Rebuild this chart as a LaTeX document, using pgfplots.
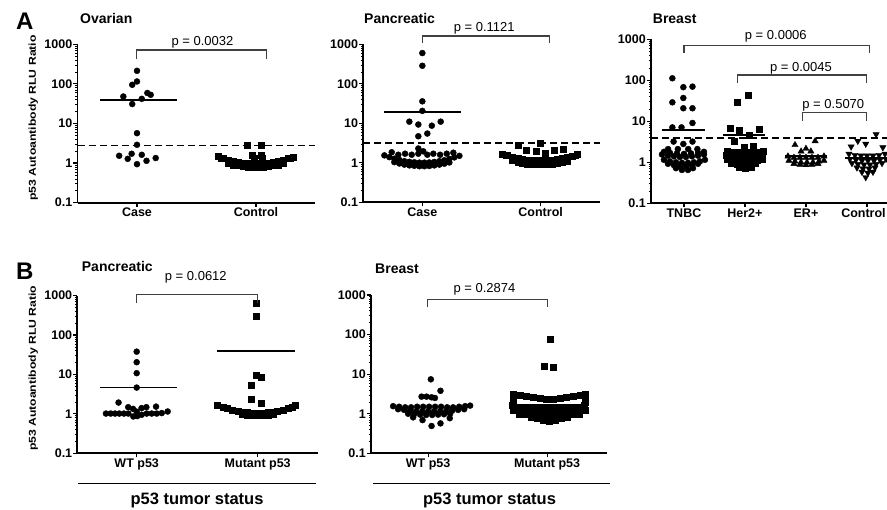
\documentclass[border=0pt]{standalone}
\usepackage{fontspec}
\setmainfont{Liberation Sans}
\usepackage{graphicx}
\usepackage{pgfplots}
\pgfplotsset{compat=1.18}

\pgfplotsset{
  dotplotaxis/.style={
    scale only axis, ymin=0.1, ymax=1000,
    ytick={0.1,1,10,100,1000}, yticklabels={0.1,1,10,100,1000},
    minor ytick={0.2,0.3,0.4,0.5,0.6,0.7,0.8,0.9,2,3,4,5,6,7,8,9,20,30,40,50,60,70,80,90,200,300,400,500,600,700,800,900},
    axis x line*=bottom, axis y line*=left,
    axis line style={line width=1.8pt},
    tick align=outside, major tick length=4pt, minor tick length=2pt,
    major tick style={line width=1.2pt, black},
    minor tick style={line width=0.6pt, black},
    ticklabel style={font=\bfseries\fontsize{12.5}{14}\selectfont},
    yticklabel style={inner sep=1pt},
    xticklabel style={inner sep=1pt},
    clip=false,
  },
  dot/.style={only marks, mark=*, mark size=3pt, black},
  sq/.style={only marks, mark=square*, mark size=3pt, black},
  tri/.style={only marks, mark=triangle*, mark size=3.6pt, black},
  trid/.style={only marks, mark=triangle*, mark size=3.6pt, black, mark options={rotate=180}},
  med/.style={black, line width=1.8pt, mark=none},
  cut/.style={black, line width=1.5pt, dash pattern=on 7pt off 4pt, mark=none},
}

\begin{document}
\begin{tikzpicture}[x=1pt,y=1pt]
\useasboundingbox (0,0) rectangle (887,510);

% ---- A: Ovarian
\begin{axis}[ymode=log, dotplotaxis, at={(77.5pt,307.3pt)}, anchor=south west, width=238pt, height=158.4pt,
  xmin=-0.5, xmax=1.5, xtick={0,1}, xticklabels={Case,Control}]
\addplot[cut] coordinates {(-0.5,2.78) (1.5,2.78)};
\addplot[dot] coordinates {
  (0.00,214) (-0.04,95) (0.00,115) (-0.115,48) (-0.04,31) (0.04,42) (0.087,59) (0.115,53)
  (0.00,5.7) (0.00,2.9) (-0.15,1.53) (-0.045,1.72) (0.04,1.62) (-0.078,1.28) (0.00,0.94)
  (0.08,1.14) (0.157,1.34)};
\addplot[med] coordinates {(-0.31,40) (0.335,40)};
\addplot[sq] coordinates {
  (0.681,1.47) (0.723,1.32) (0.765,1.21) (0.807,1.12) (0.849,1.05) (0.891,1.01) (0.933,0.98)
  (0.975,0.96) (1.017,0.96) (1.059,0.97) (1.101,1.00) (1.143,1.05) (1.185,1.10) (1.227,1.19)
  (1.269,1.30) (1.311,1.43)
  (0.765,0.99) (0.807,0.91) (0.849,0.86) (0.891,0.82) (0.933,0.80) (0.975,0.78) (1.017,0.78)
  (1.059,0.79) (1.101,0.82) (1.143,0.86) (1.185,0.90) (1.227,0.97)
  (0.922,2.78) (1.04,2.78) (0.964,1.62) (1.042,1.62) (0.983,1.34) (1.05,1.34)};
\addplot[med] coordinates {(0.68,1.15) (1.32,1.15)};
\end{axis}

% ---- A: Pancreatic
\begin{axis}[ymode=log, dotplotaxis, at={(363.2pt,307.7pt)}, anchor=south west, width=236.6pt, height=158pt,
  xmin=-0.5, xmax=1.5, xtick={0,1}, xticklabels={Case,Control}]
\addplot[cut] coordinates {(-0.5,3.2) (1.5,3.2)};
\addplot[dot] coordinates {
  (0,600) (0,286) (0,36) (0,20.6) (-0.11,11) (-0.034,9.3) (0.08,8.7) (0.155,11)
  (-0.034,4.7) (0.042,5.5) (-0.034,2.3)
  (-0.259,1.85) (-0.203,1.6) (-0.146,1.7) (-0.09,1.6) (-0.034,1.7) (0.008,1.95) (0.042,1.6)
  (0.093,1.7) (0.15,1.6) (0.206,1.7) (0.262,1.8)
  (-0.321,1.54) (-0.279,1.39) (-0.237,1.27) (-0.194,1.18) (-0.152,1.10) (-0.11,1.06) (-0.068,1.03)
  (-0.025,1.01) (0.017,1.01) (0.059,1.02) (0.101,1.05) (0.144,1.10) (0.186,1.16) (0.228,1.25)
  (0.27,1.37) (0.313,1.50)
  (-0.237,1.04) (-0.194,0.96) (-0.152,0.90) (-0.11,0.86) (-0.068,0.84) (-0.025,0.82) (0.017,0.82)
  (0.059,0.83) (0.101,0.86) (0.144,0.90) (0.186,0.95) (0.228,1.02)};
\addplot[med] coordinates {(-0.32,19) (0.33,19)};
\addplot[sq] coordinates {
  (0.81,2.73) (1.0,3.07) (0.88,2.05) (0.96,1.93) (1.04,1.79) (1.115,2.05) (1.19,2.17)
  (0.679,1.69) (0.721,1.52) (0.763,1.39) (0.806,1.29) (0.848,1.21) (0.89,1.16) (0.932,1.13)
  (0.975,1.10) (1.017,1.10) (1.059,1.12) (1.101,1.15) (1.144,1.21) (1.186,1.27) (1.228,1.37)
  (1.27,1.50) (1.313,1.64)
  (0.763,1.14) (0.806,1.05) (0.848,0.99) (0.89,0.94) (0.932,0.92) (0.975,0.90) (1.017,0.90)
  (1.059,0.91) (1.101,0.94) (1.144,0.99) (1.186,1.04) (1.228,1.12)};
\addplot[med] coordinates {(0.68,1.3) (1.32,1.3)};
\end{axis}

% ---- A: Breast
\begin{axis}[ymode=log, dotplotaxis, at={(651pt,306.7pt)}, anchor=south west, width=236.1pt, height=164pt,
  xmin=-0.54, xmax=3.33, xtick={0,1,2,3}, xticklabels={TNBC,Her2+,ER+,Control\hspace*{7pt}}]
\addplot[cut] coordinates {(-0.54,3.9) (3.33,3.9)};
\addplot[dot] coordinates {
  (-0.19,112) (-0.01,68) (0.14,70) (-0.19,29) (-0.01,37) (-0.01,20.8) (0.14,20.8)
  (-0.19,7.1) (-0.04,7.1) (0.14,9.1) (-0.17,3.2) (0.14,3.2) (-0.01,2.8)
  (-0.26,2.1) (-0.1,2.1) (0.07,2.1) (0.22,2.1)
  (-0.328,1.8) (-0.23,1.7) (-0.115,1.65) (0,1.6) (0.115,1.65) (0.23,1.7) (0.328,1.8)
  (-0.36,1.55) (-0.262,1.45) (-0.164,1.4) (-0.066,1.35) (0.033,1.35) (0.131,1.4) (0.23,1.45) (0.328,1.55)
  (-0.328,1.15) (-0.23,1.05) (-0.131,1.0) (-0.033,0.97) (0.066,0.97) (0.164,1.0) (0.262,1.05) (0.344,1.15)
  (-0.262,0.92) (-0.164,0.85) (-0.066,0.8) (0.033,0.8) (0.131,0.85) (0.23,0.92)
  (-0.131,0.72) (-0.033,0.65) (0.066,0.65) (0.148,0.72)};
\addplot[med] coordinates {(-0.36,6.1) (0.34,6.1)};
\addplot[sq] coordinates {
  (0.865,30) (1.055,44) (0.754,6.7) (0.9,6.2) (1.23,6.5) (1.066,4.46) (0.82,3.2) (0.99,2.3) (1.137,2.5)
  (0.705,1.85) (0.803,1.8) (0.902,1.8) (1.0,1.8) (1.098,1.8) (1.197,1.8) (1.295,1.85)
  (0.689,1.5) (0.787,1.45) (0.885,1.45) (0.984,1.45) (1.082,1.45) (1.18,1.45) (1.279,1.5)
  (0.705,1.2) (0.803,1.15) (0.902,1.12) (1.0,1.1) (1.098,1.12) (1.197,1.15) (1.279,1.2)
  (0.77,0.95) (0.869,0.9) (0.967,0.88) (1.066,0.9) (1.164,0.95)
  (0.902,0.75) (1.0,0.7) (1.098,0.75)};
\addplot[med] coordinates {(0.644,4.6) (1.328,4.6)};
\addplot[tri] coordinates {
  (1.82,2.65) (2.15,3.3) (2.0,2.15) (1.92,1.85) (2.08,1.85)
  (1.705,1.4) (1.803,1.3) (1.902,1.3) (2.0,1.3) (2.098,1.3) (2.197,1.3) (2.295,1.4)
  (1.721,1.1) (1.82,1.05) (1.918,1.0) (2.016,1.0) (2.115,1.0) (2.213,1.05) (2.295,1.1)
  (1.803,0.92) (1.902,0.88) (2.0,0.86) (2.098,0.88) (2.197,0.92)};
\addplot[med] coordinates {(1.656,1.42) (2.34,1.42)};
\addplot[trid] coordinates {
  (2.85,3.3) (2.98,2.8) (3.15,4.8) (3.26,2.3) (2.74,2.4)
  (2.705,1.6) (2.803,1.5) (2.902,1.45) (3.0,1.45) (3.098,1.45) (3.197,1.5) (3.295,1.6)
  (2.721,1.2) (2.82,1.15) (2.918,1.1) (3.016,1.1) (3.115,1.1) (3.213,1.15) (3.311,1.2)
  (2.754,0.95) (2.852,0.9) (2.951,0.88) (3.049,0.88) (3.148,0.9) (3.246,0.95)
  (2.836,0.74) (2.934,0.7) (3.033,0.7) (3.131,0.74)
  (2.918,0.58) (3.016,0.55) (3.098,0.58) (2.98,0.43)};
\addplot[med] coordinates {(2.64,1.25) (3.33,1.25)};
\end{axis}

% ---- B: Pancreatic
\begin{axis}[ymode=log, dotplotaxis, at={(77.4pt,56.7pt)}, anchor=south west, width=240.8pt, height=157.6pt,
  xmin=-0.49, xmax=1.5, xtick={0,1}, xticklabels={WT p53,Mutant p53}]
\addplot[dot] coordinates {
  (0,38) (0,20.5) (0,10.8) (0,4.65) (-0.15,1.94) (-0.07,1.48) (-0.03,1.34) (0.04,1.4)
  (0.08,1.48) (0.16,1.53) (0,1.14)
  (-0.254,1.02) (-0.215,1.02) (-0.179,1.02) (-0.144,1.02) (-0.105,1.02) (-0.069,1.02)
  (-0.028,0.86) (0.005,0.88) (0.041,0.95) (0.083,1.02) (0.124,1.02) (0.165,1.02)
  (0.207,1.05) (0.256,1.15)};
\addplot[med] coordinates {(-0.3,4.65) (0.335,4.65)};
\addplot[sq] coordinates {
  (0.986,645) (0.986,307) (0.986,9.8) (1.025,8.5) (0.945,5.45) (0.945,2.4) (1.025,1.87)
  (0.669,1.69) (0.711,1.51) (0.752,1.38) (0.793,1.27) (0.835,1.19) (0.876,1.13) (0.917,1.09)
  (0.959,1.07) (1.0,1.06) (1.041,1.07) (1.083,1.09) (1.124,1.13) (1.165,1.19) (1.207,1.27)
  (1.248,1.38) (1.289,1.51) (1.314,1.62)
  (0.876,0.97) (0.917,0.95) (0.959,0.93) (1.0,0.93) (1.041,0.93) (1.083,0.95) (1.124,0.97)};
\addplot[med] coordinates {(0.66,40.4) (1.31,40.4)};
\end{axis}

% ---- B: Breast
\begin{axis}[ymode=log, dotplotaxis, at={(371pt,56.7pt)}, anchor=south west, width=235.6pt, height=158.3pt,
  xmin=-0.48, xmax=1.5, xtick={0,1}, xticklabels={WT p53,Mutant p53}]
\addplot[dot] coordinates {
  (0.023,7.4) (0.104,3.8) (-0.055,2.7) (-0.013,2.7) (0.029,2.6) (0.057,2.5)
  (-0.126,0.81) (-0.047,0.69) (0.029,0.49) (0.104,0.57) (0.182,0.77)
  (-0.294,1.55) (-0.244,1.5) (-0.193,1.45) (-0.143,1.45) (-0.092,1.5) (-0.042,1.5) (0.008,1.5)
  (0.059,1.5) (0.109,1.5) (0.16,1.45) (0.21,1.45) (0.261,1.5) (0.311,1.55) (0.353,1.6)
  (-0.252,1.3) (-0.202,1.25) (-0.151,1.2) (-0.101,1.15) (-0.05,1.15) (0,1.15) (0.05,1.15)
  (0.101,1.15) (0.151,1.15) (0.202,1.2) (0.252,1.25) (0.303,1.3)
  (-0.168,1.0) (-0.118,0.97) (-0.067,0.95) (-0.017,0.93) (0.034,0.93) (0.084,0.95) (0.134,0.97) (0.185,1.0)};
\addplot[sq] coordinates {
  (1.023,77) (0.978,16.3) (1.05,15.4)
  (0.714,3.2) (0.771,3.0) (0.827,2.8) (0.882,2.6) (0.939,2.4) (0.995,2.3) (1.05,2.3)
  (1.107,2.4) (1.163,2.6) (1.218,2.8) (1.275,3.0) (1.317,3.2)
  (0.714,2.5) (1.317,2.5) (0.714,2.0) (1.317,2.0)
  (0.706,1.6) (0.756,1.5) (0.807,1.45) (0.857,1.45) (0.908,1.45) (0.958,1.45) (1.008,1.45)
  (1.059,1.45) (1.109,1.45) (1.16,1.45) (1.21,1.45) (1.261,1.5) (1.311,1.6)
  (0.714,1.2) (0.765,1.2) (0.815,1.2) (0.866,1.2) (0.916,1.2) (0.966,1.2) (1.017,1.2)
  (1.067,1.2) (1.118,1.2) (1.168,1.2) (1.218,1.2) (1.269,1.2) (1.319,1.2)
  (0.765,1.0) (0.815,0.97) (0.866,0.95) (0.916,0.93) (0.966,0.93) (1.017,0.93) (1.067,0.93)
  (1.118,0.93) (1.168,0.95) (1.218,0.97) (1.269,1.0)
  (0.866,0.8) (0.916,0.78) (0.966,0.77) (1.017,0.77) (1.067,0.77) (1.118,0.78) (1.168,0.8)
  (0.966,0.67) (1.017,0.66) (1.067,0.67)};
\end{axis}

% ---- annotations
\tikzset{plab/.style={font=\fontsize{13}{15}\selectfont, anchor=base, inner sep=0pt},
  ttl/.style={font=\bfseries\fontsize{14}{16}\selectfont, anchor=base west, inner sep=0pt},
  brk/.style={line width=1.1pt, black!75}}
\node[font=\bfseries\fontsize{24}{26}\selectfont, anchor=base west, inner sep=0pt] at (16,480) {A};
\node[font=\bfseries\fontsize{24}{26}\selectfont, anchor=base west, inner sep=0pt] at (16,230.5) {B};
\node[ttl] at (80,486) {Ovarian};
\node[ttl] at (364,486) {Pancreatic};
\node[ttl] at (652.7,486) {Breast};
\node[ttl] at (81.7,238.3) {Pancreatic};
\node[ttl] at (375,236.7) {Breast};

\node[rotate=90, font=\bfseries\fontsize{10}{11}\selectfont] at (33.3,392) {\scalebox{1.22}[1]{p53 Autoantibody RLU Ratio}};
\node[rotate=90, font=\bfseries\fontsize{10}{11}\selectfont] at (33.3,141.7) {\scalebox{1.22}[1]{p53 Autoantibody RLU Ratio}};

\draw[brk] (136.7,450.7) -- (136.7,460) -- (266.7,460) -- (266.7,450.7);
\node[plab] at (202.5,464) {p = 0.0032};
\draw[brk] (422.3,466.7) -- (422.3,474) -- (549.3,474) -- (549.3,466.7);
\node[plab] at (484.2,478.3) {p = 0.1121};
\draw[brk] (684,456.7) -- (684,464.3) -- (869.3,464.3) -- (869.3,456.7);
\node[plab] at (775.8,470) {p = 0.0006};
\draw[brk] (737.3,426.7) -- (737.3,435) -- (866.7,435) -- (866.7,426.7);
\node[plab] at (801,438.3) {p = 0.0045};
\draw[brk] (802.7,389.3) -- (802.7,397.3) -- (866.7,397.3) -- (866.7,389.3);
\node[plab] at (833.3,401.7) {p = 0.5070};
\draw[brk] (136.7,206.7) -- (136.7,215.7) -- (257.7,215.7) -- (257.7,206.7);
\node[plab] at (195.8,229.3) {p = 0.0612};
\draw[brk] (427.3,202.7) -- (427.3,210.7) -- (547.3,210.7) -- (547.3,202.7);
\node[plab] at (484.5,217.3) {p = 0.2874};

\draw[line width=1pt] (78,26) -- (316,26);
\draw[line width=1pt] (373,26.5) -- (610,26.5);
\node[font=\bfseries\fontsize{16.5}{18}\selectfont, anchor=base, inner sep=0pt] at (197,5) {p53 tumor status};
\node[font=\bfseries\fontsize{16.5}{18}\selectfont, anchor=base, inner sep=0pt] at (489.5,5) {p53 tumor status};
\end{tikzpicture}
\end{document}
